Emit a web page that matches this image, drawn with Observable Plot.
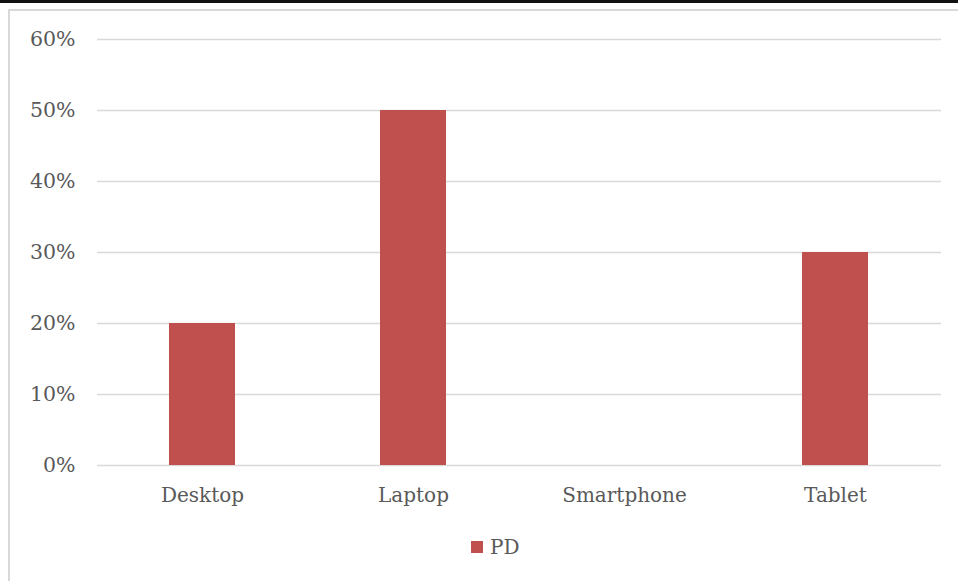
<!DOCTYPE html>
<html>
<head>
<meta charset="utf-8">
<script src="https://cdn.jsdelivr.net/npm/d3@7"></script>
<script src="https://cdn.jsdelivr.net/npm/@observablehq/plot@0.6"></script>
<style>
  html, body { margin: 0; padding: 0; background: #fff; overflow: hidden; }
  body { width: 958px; height: 581px; position: relative; font-family: "DejaVu Serif", serif; }
  #rule { position: absolute; left: 0; top: 0; width: 958px; height: 3px; background: #111; }
  #frame { position: absolute; left: 8px; top: 9px; width: 1200px; height: 1200px;
           border: 2px solid #d9d9d9; box-sizing: border-box; }
  #chart { position: absolute; left: 0; top: 0; }
  #legend { position: absolute; left: 471px; top: 535px; }
</style>
</head>
<body>
<div id="rule"></div>
<div id="frame"></div>
<div id="chart"></div>
<div id="legend"></div>
<script>
// Share of respondents by device
const categories = ["Desktop", "Laptop", "Smartphone", "Tablet"];
const pdValues = [0.20, 0.50, 0.00, 0.30];
const seriesName = "PD";
const yTicks = [0, 0.1, 0.2, 0.3, 0.4, 0.5, 0.6];

const rows = categories.map((c, i) => ({device: c, value: pdValues[i], series: seriesName}));

const barColor = "#c0504d";
const textColor = "#595959";

const plot = Plot.plot({
  width: 958,
  height: 520,
  marginTop: 39,
  marginBottom: 55,
  marginLeft: 97,
  marginRight: 17,
  style: {fontFamily: "DejaVu Serif, serif", fontSize: "20px", color: textColor, background: "transparent"},
  x: {domain: categories, paddingInner: 0.687, paddingOuter: 0.3435, label: null},
  y: {domain: [0, 0.6], label: null},
  color: {domain: [seriesName], range: [barColor]},
  marks: [
    Plot.gridY(yTicks, {stroke: "#d9d9d9", strokeOpacity: 1, strokeWidth: 1.5}),
    Plot.barY(rows, {x: "device", y: "value", fill: "series"}),
    Plot.axisY(yTicks, {tickSize: 0, tickPadding: 22, tickFormat: d3.format(".0%"), fill: textColor, fontSize: 20.5}),
    Plot.axisX({tickSize: 0, tickPadding: 22, fill: textColor, fontSize: 20})
  ]
});
document.getElementById("chart").appendChild(plot);

// Series legend below the plot
const legend = plot.legend("color", {swatchSize: 12, swatchWidth: 12, swatchHeight: 12,
  style: {fontFamily: "DejaVu Serif, serif", fontSize: "20px", color: textColor}});
legend.style.marginLeft = "0";
legend.style.minHeight = "0";
document.getElementById("legend").appendChild(legend);
// tighten the gap between swatch and label
legend.querySelectorAll("svg").forEach(s => { s.style.marginRight = "7px"; });
</script>
</body>
</html>
